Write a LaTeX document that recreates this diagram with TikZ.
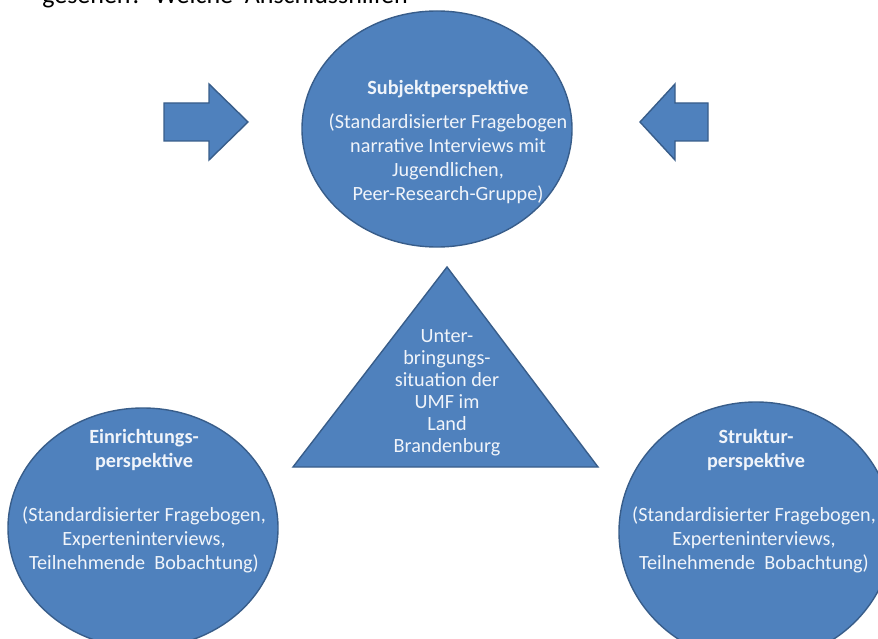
\documentclass[tikz,border=0pt]{standalone}
\usepackage{fontspec}
\setmainfont{Carlito}
\usetikzlibrary{shapes.geometric}
\definecolor{shapefill}{RGB}{79,129,189}
\definecolor{shapeline}{RGB}{56,93,138}
\definecolor{shapetext}{RGB}{240,244,250}
\tikzset{
  blueshape/.style={fill=shapefill, draw=shapeline, line width=1.4pt, line join=miter},
  bluellipse/.style={blueshape, ellipse, inner sep=0pt},
  labeltext/.style={text=shapetext, align=center, inner sep=0pt,
    font=\fontsize{20.2}{24}\selectfont},
}
\begin{document}
\begin{tikzpicture}[x=1pt,y=-1pt]
\useasboundingbox (0,0) rectangle (878,639);
\clip (0,0) rectangle (878,639);
% header text (cut by the top edge)
\node[anchor=base east, inner sep=0pt, font=\fontsize{26}{30}\selectfont, text=black] (head) at (408,4) {gesehen?\ \ Welche\ \ Anschlusshilfen};
% ellipses
\node[bluellipse, minimum width=270pt, minimum height=236pt] (subj) at (437,129) {};
\node[bluellipse, minimum width=270pt, minimum height=240pt] (einr) at (143,528) {};
\node[bluellipse, minimum width=274pt, minimum height=260pt] (strk) at (756,532) {};
% triangle
\coordinate (tA) at (447,267);
\coordinate (tL) at (293,467);
\coordinate (tR) at (598,467);
\draw[blueshape] (tA) -- (tR) -- (tL) -- cycle;
% block arrows
\draw[blueshape] (164,103) -- (209,103) -- (209,84) -- (248,122) -- (209,160) -- (209,141) -- (164,141) -- cycle;
\draw[blueshape] (708,103) -- (675,103) -- (675,84) -- (640,122) -- (675,160) -- (675,141) -- (708,141) -- cycle;
% texts
\node[labeltext] (subjT) at (448,89) {\textbf{Subjektperspektive}};
\node[labeltext, anchor=north] (subjB) at (448,114) {(Standardisierter Fragebogen\\narrative Interviews mit\\Jugendlichen,\\Peer-Research-Gruppe)};
\node[labeltext, font=\fontsize{20.2}{22}\selectfont, anchor=north] (triT) at (447,329) {Unter-\\bringungs-\\situation der\\UMF im\\Land\\Brandenburg};
\node[labeltext, anchor=north] (einrT) at (144,429) {\textbf{Einrichtungs-}\\\textbf{perspektive}};
\node[labeltext, anchor=north] (einrB) at (144,507) {(Standardisierter Fragebogen,\\Experteninterviews,\\Teilnehmende\ \ Bobachtung)};
\node[labeltext, anchor=north] (strkT) at (756,429) {\textbf{Struktur-}\\\textbf{perspektive}};
\node[labeltext, anchor=north] (strkB) at (754,507) {(Standardisierter Fragebogen,\\Experteninterviews,\\Teilnehmende\ \ Bobachtung)};
\end{tikzpicture}
\end{document}
